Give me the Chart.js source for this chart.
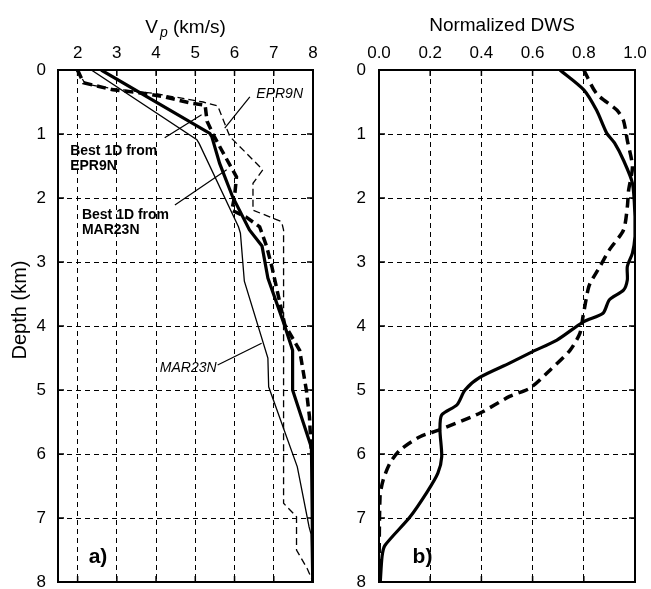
<!DOCTYPE html>
<html lang="en">
<head>
<meta charset="UTF-8">
<title>Vp and normalized DWS versus depth</title>
<script src="https://cdn.jsdelivr.net/npm/chart.js"></script>
<style>
  body { margin: 0; background: #fff; }
  #wrap { position: relative; width: 651px; height: 589px; }
  canvas { position: absolute; top: 0; }
  #vpChart { left: 0; }
  #dwsChart { left: 325px; }
</style>
</head>
<body>
<div id="wrap">
  <canvas id="vpChart" width="325" height="589"></canvas>
  <canvas id="dwsChart" width="326" height="589"></canvas>
</div>
<script>
// axis ticks
const vpTicks = [2, 3, 4, 5, 6, 7, 8];
const dwsTicks = [0, 0.2, 0.4, 0.6, 0.8, 1.0];
const depthTicks = [0, 1, 2, 3, 4, 5, 6, 7, 8];

// panel a) Vp (km/s) against depth (km)
const epr9nVp = [1.96, 2.11, 2.2, 3.0, 4.0, 5.2, 5.57, 5.88, 6.72, 6.47, 6.47, 7.2, 7.25, 7.25, 7.58, 7.58, 7.86, 8.0];
const epr9nZ  = [0, 0.13, 0.22, 0.3, 0.37, 0.5, 0.56, 1.04, 1.56, 1.77, 2.19, 2.37, 2.5, 6.77, 6.98, 7.5, 7.8, 8.0];

const mar23nVp = [2.35, 5.04, 5.1, 6.1, 6.15, 6.25, 6.85, 6.87, 7.6, 7.9, 7.95, 7.97];
const mar23nZ  = [0, 1.09, 1.15, 2.45, 2.55, 3.3, 4.5, 4.95, 6.2, 7.14, 7.25, 8.0];

const bestMarVp = [2.6, 5.37, 5.42, 5.62, 5.95, 6.38, 6.7, 6.85, 7.28, 7.48, 7.48, 7.96, 8.0];
const bestMarZ  = [0, 0.99, 1.04, 1.46, 1.98, 2.5, 2.75, 3.25, 4.0, 4.38, 5.0, 5.9, 8.0];

const bestEprVp = [2.0, 2.15, 2.9, 3.64, 4.22, 4.9, 5.25, 5.3, 5.45, 5.67, 6.05, 6.0, 5.93, 6.3, 6.64, 6.82, 6.95, 7.28, 7.66, 7.83, 7.91, 7.95, 8.0, 8.0];
const bestEprZ  = [0, 0.2, 0.31, 0.36, 0.42, 0.52, 0.55, 0.8, 1.0, 1.25, 1.67, 1.98, 2.19, 2.3, 2.45, 2.76, 3.07, 3.98, 4.38, 5.0, 5.42, 5.9, 6.0, 8.0];

// panel b) normalized DWS against depth (km)
const dwsSolid  = [0.707, 0.80, 0.85, 0.89, 0.92, 0.955, 0.99, 1.0, 1.0, 0.99, 0.97, 0.97, 0.955, 0.90, 0.875, 0.80, 0.695, 0.60, 0.51, 0.395, 0.336, 0.305, 0.245, 0.238, 0.245, 0.23, 0.187, 0.12, 0.023, 0.012, 0.005];
const dwsSolidZ = [0, 0.31, 0.63, 0.99, 1.14, 1.41, 1.77, 2.29, 2.6, 2.86, 3.07, 3.28, 3.44, 3.59, 3.8, 3.93, 4.22, 4.4, 4.58, 4.8, 5.0, 5.23, 5.39, 5.62, 6.04, 6.3, 6.6, 6.99, 7.43, 7.6, 8.0];

const dwsDash  = [0.80, 0.85, 0.93, 0.955, 0.97, 0.99, 0.975, 0.97, 0.955, 0.90, 0.863, 0.825, 0.816, 0.797, 0.785, 0.746, 0.668, 0.59, 0.51, 0.395, 0.238, 0.16, 0.082, 0.043, 0.016, 0.004, 0.0];
const dwsDashZ = [0, 0.37, 0.63, 0.79, 1.1, 1.51, 1.88, 2.14, 2.5, 2.81, 3.07, 3.33, 3.44, 3.85, 4.11, 4.38, 4.69, 4.97, 5.1, 5.36, 5.62, 5.73, 5.94, 6.14, 6.41, 6.67, 8.0];

// labels inside panel a (value, depth)
const vpNotes = [
  { text: 'EPR9N', x: 7.15, y: 0.375, font: 'italic 14px', align: 'center' },
  { text: 'Best 1D from', x: 1.81, y: 1.27, font: 'bold 14px', align: 'left' },
  { text: 'EPR9N', x: 1.81, y: 1.5, font: 'bold 14px', align: 'left' },
  { text: 'Best 1D from', x: 2.11, y: 2.27, font: 'bold 14px', align: 'left' },
  { text: 'MAR23N', x: 2.11, y: 2.5, font: 'bold 14px', align: 'left' },
  { text: 'MAR23N', x: 4.82, y: 4.66, font: 'italic 14px', align: 'center' },
  { text: 'a)', x: 2.52, y: 7.61, font: 'bold 21px', align: 'center' }
];
const vpLeaders = [
  [6.39, 0.42, 5.75, 0.91],
  [4.22, 1.06, 5.16, 0.70],
  [4.48, 2.11, 5.8, 1.56],
  [5.57, 4.61, 6.69, 4.27]
];
const dwsNotes = [
  { text: 'b)', x: 0.17, y: 7.61, font: 'bold 21px', align: 'center' }
];

const FONT = "'Liberation Sans', Arial, Helvetica, sans-serif";

function pts(xs, ys) {
  return xs.map((x, i) => ({ x: x, y: ys[i] }));
}

function line(xs, ys, width, dash, tension) {
  return {
    data: pts(xs, ys),
    showLine: true,
    borderColor: '#000',
    borderWidth: width,
    borderDash: dash,
    pointRadius: 0,
    fill: false,
    tension: tension || 0
  };
}

// frame, inward ticks, titles and notes
function decor(drawTitle, notes, leaders) {
  return {
    id: 'decor',
    afterDraw(chart) {
      const ctx = chart.ctx;
      const a = chart.chartArea;
      const sx = chart.scales.x, sy = chart.scales.y;
      ctx.save();
      ctx.strokeStyle = '#000';
      ctx.fillStyle = '#000';
      ctx.lineWidth = 1.5;
      ctx.setLineDash([]);
      sx.ticks.forEach(t => {
        const px = sx.getPixelForValue(t.value);
        ctx.beginPath();
        ctx.moveTo(px, a.top); ctx.lineTo(px, a.top + 6);
        ctx.moveTo(px, a.bottom); ctx.lineTo(px, a.bottom - 6);
        ctx.stroke();
      });
      sy.ticks.forEach(t => {
        const py = sy.getPixelForValue(t.value);
        ctx.beginPath();
        ctx.moveTo(a.left, py); ctx.lineTo(a.left + 6, py);
        ctx.moveTo(a.right, py); ctx.lineTo(a.right - 6, py);
        ctx.stroke();
      });
      ctx.lineWidth = 2;
      ctx.strokeRect(a.left, a.top, a.right - a.left, a.bottom - a.top);

      ctx.lineWidth = 1.2;
      (leaders || []).forEach(l => {
        ctx.beginPath();
        ctx.moveTo(sx.getPixelForValue(l[0]), sy.getPixelForValue(l[1]));
        ctx.lineTo(sx.getPixelForValue(l[2]), sy.getPixelForValue(l[3]));
        ctx.stroke();
      });
      ctx.textBaseline = 'middle';
      (notes || []).forEach(n => {
        ctx.font = n.font + ' ' + FONT;
        ctx.textAlign = n.align;
        ctx.fillText(n.text, sx.getPixelForValue(n.x), sy.getPixelForValue(n.y));
      });
      drawTitle(ctx, a);
      ctx.restore();
    }
  };
}

function axes(xMin, xMax, xTicks, fmt, yWidth, yPad) {
  const tickFont = { family: FONT, size: 17 };
  return {
    x: {
      type: 'linear', position: 'top', min: xMin, max: xMax,
      afterBuildTicks: s => { s.ticks = xTicks.map(v => ({ value: v })); },
      afterFit: s => { s.height = 70; s.paddingLeft = 0; s.paddingRight = 0; },
      ticks: { font: tickFont, color: '#000', padding: 6, maxRotation: 0, callback: fmt },
      grid: { color: '#000', lineWidth: 1, drawTicks: false },
      border: { display: false, dash: [5, 4] }
    },
    y: {
      type: 'linear', reverse: true, min: 0, max: 8,
      afterBuildTicks: s => { s.ticks = depthTicks.map(v => ({ value: v })); },
      afterFit: s => { s.width = yWidth; s.paddingTop = 0; s.paddingBottom = 0; },
      ticks: { font: tickFont, color: '#000', padding: yPad, callback: v => String(v) },
      grid: { color: '#000', lineWidth: 1, drawTicks: false },
      border: { display: false, dash: [5, 4] }
    }
  };
}

const common = {
  responsive: false,
  animation: false,
  devicePixelRatio: 1,
  plugins: { legend: { display: false }, tooltip: { enabled: false } }
};

new Chart(document.getElementById('vpChart'), {
  type: 'scatter',
  data: {
    datasets: [
      line(epr9nVp, epr9nZ, 1.3, [7, 4]),
      line(mar23nVp, mar23nZ, 1.3, []),
      line(bestEprVp, bestEprZ, 3.5, [9, 5]),
      line(bestMarVp, bestMarZ, 3.2, [])
    ]
  },
  options: Object.assign({}, common, {
    layout: { padding: { left: 0, right: 12, top: 0, bottom: 7 } },
    scales: axes(1.5, 8, vpTicks, v => String(v), 58, 12)
  }),
  plugins: [decor((ctx, a) => {
    // V with italic subscript p, then (km/s)
    const big = '19px ' + FONT, sub = 'italic 14px ' + FONT;
    ctx.textBaseline = 'alphabetic';
    ctx.textAlign = 'left';
    ctx.font = big;
    const wV = ctx.measureText('V').width;
    const wRest = ctx.measureText(' (km/s)').width;
    ctx.font = sub;
    const wP = ctx.measureText('p').width + 2;
    let x = (a.left + a.right) / 2 - (wV + wP + wRest) / 2;
    ctx.font = big;
    ctx.fillText('V', x, 33);
    ctx.font = sub;
    ctx.fillText('p', x + wV + 2, 37);
    ctx.font = big;
    ctx.fillText(' (km/s)', x + wV + wP, 33);
    // depth title
    ctx.save();
    ctx.translate(20, 310);
    ctx.rotate(-Math.PI / 2);
    ctx.textAlign = 'center';
    ctx.textBaseline = 'middle';
    ctx.font = '20px ' + FONT;
    ctx.fillText('Depth (km)', 0, 0);
    ctx.restore();
  }, vpNotes, vpLeaders)]
});

new Chart(document.getElementById('dwsChart'), {
  type: 'scatter',
  data: {
    datasets: [
      line(dwsSolid, dwsSolidZ, 3.2, [], 0.25),
      line(dwsDash, dwsDashZ, 3.5, [10, 6], 0.25)
    ]
  },
  options: Object.assign({}, common, {
    layout: { padding: { left: 0, right: 16, top: 0, bottom: 7 } },
    scales: axes(0, 1.0, dwsTicks, v => v.toFixed(1), 54, 13)
  }),
  plugins: [decor((ctx, a) => {
    ctx.textBaseline = 'alphabetic';
    ctx.textAlign = 'center';
    ctx.font = '19px ' + FONT;
    ctx.fillText('Normalized DWS', (a.left + a.right) / 2 - 5, 31);
  }, dwsNotes, [])]
});
</script>
</body>
</html>
